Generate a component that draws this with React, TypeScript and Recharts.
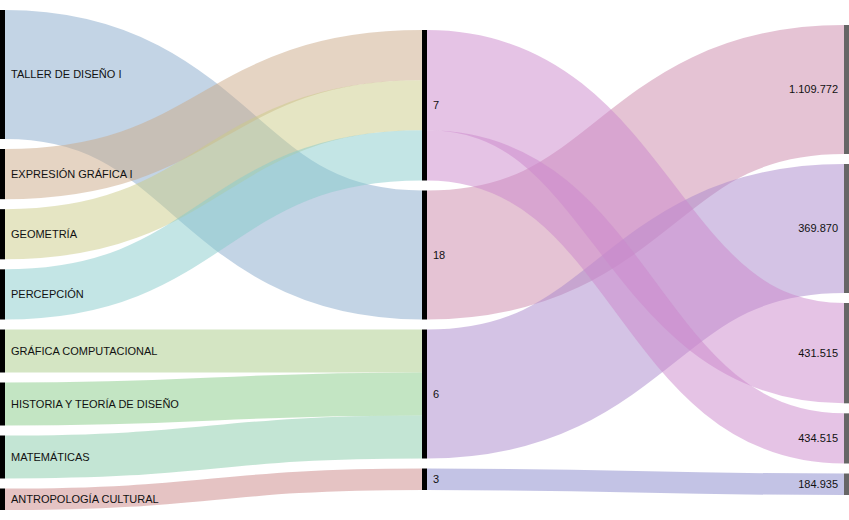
import { Sankey } from 'recharts';

// left column: courses and their credits
const courses = [
  'TALLER DE DISEÑO I',
  'EXPRESIÓN GRÁFICA I',
  'GEOMETRÍA',
  'PERCEPCIÓN',
  'GRÁFICA COMPUTACIONAL',
  'HISTORIA Y TEORÍA DE DISEÑO',
  'MATEMÁTICAS',
  'ANTROPOLOGÍA CULTURAL',
];
const courseCredits = [18, 7, 7, 7, 6, 6, 6, 3];
const courseGroup = ['18', '7', '7', '7', '6', '6', '6', '3'];
const courseColors = ['#88aacc', '#ccaa88', '#cccc88', '#88cccc', '#aacc88', '#88cc88', '#88ccaa', '#cc8888'];

// middle column: credit groups
const groups = ['7', '18', '6', '3'];
const groupColors = ['#cc88cc', '#cc88aa', '#aa88cc', '#8888cc'];

// right column: amounts
const amounts = ['1.109.772', '369.870', '431.515', '434.515', '184.935'];
const amountFrom = ['18', '6', '7', '7', '3'];
const amountValues = [18, 18, 14, 7, 3];

const WIDTH = 849;
const HEIGHT = 520;
const MARGIN = { top: 10, right: 0, bottom: 10, left: 0 };
const PAD = 10;
const NODE_W = 5;

const nodeNames = [...courses, ...groups, ...amounts];
const nodes = nodeNames.map((name) => ({ name }));

const linkSrc: string[] = [];
const linkColor: string[] = [];
const links: { source: number; target: number; value: number }[] = [];
courses.forEach((c, i) => {
  links.push({ source: nodeNames.indexOf(c), target: nodeNames.indexOf(courseGroup[i]), value: courseCredits[i] });
  linkSrc.push(c);
  linkColor.push(courseColors[i]);
});
amounts.forEach((a, i) => {
  links.push({ source: nodeNames.indexOf(amountFrom[i]), target: nodeNames.indexOf(a), value: amountValues[i] });
  linkSrc.push(amountFrom[i]);
  linkColor.push(groupColors[groups.indexOf(amountFrom[i])]);
});

// Google-style layout centers each column vertically
const columns = [courses, groups, amounts];
const colTotals = [
  courseCredits.reduce((a, b) => a + b, 0),
  courseCredits.reduce((a, b) => a + b, 0),
  amountValues.reduce((a, b) => a + b, 0),
];
const innerH = HEIGHT - MARGIN.top - MARGIN.bottom;
const ky = Math.min(...columns.map((c, d) => (innerH - (c.length - 1) * PAD) / colTotals[d]));
const colOffset = columns.map((c, d) => (innerH - (colTotals[d] * ky + (c.length - 1) * PAD)) / 2);
const depthOf = (name: string) => columns.findIndex((c) => c.includes(name));

const FONT = 'Arial, "Liberation Sans", sans-serif';

function SankeyNode(props: any) {
  const { x, y, width, height, index, payload } = props;
  const name: string = payload?.name ?? nodeNames[index];
  const d = depthOf(name);
  const yy = y + colOffset[d];
  const isRight = d === 2;
  return (
    <g>
      <rect x={x} y={yy} width={width} height={height} fill={isRight ? '#666666' : '#000000'} />
      <text
        x={isRight ? x - 6 : x + width + 6}
        y={yy + height / 2}
        dy="0.35em"
        textAnchor={isRight ? 'end' : 'start'}
        fontSize={11}
        fontFamily={FONT}
        fill="#111111"
      >
        {name}
      </text>
    </g>
  );
}

function SankeyLink(props: any) {
  const { sourceX, targetX, sourceY, targetY, sourceControlX, targetControlX, linkWidth, index } = props;
  const sd = depthOf(linkSrc[index]);
  const sy = sourceY + colOffset[sd];
  const ty = targetY + colOffset[sd + 1];
  const d = `M${sourceX},${sy} C${sourceControlX},${sy} ${targetControlX},${ty} ${targetX},${ty}`;
  return <path d={d} fill="none" stroke={linkColor[index]} strokeOpacity={0.5} strokeWidth={linkWidth} />;
}

export default function App() {
  return (
    <div style={{ position: 'absolute', left: 0, top: 0, width: WIDTH, height: HEIGHT, background: '#fff' }}>
      <Sankey
        width={WIDTH}
        height={HEIGHT}
        data={{ nodes, links }}
        margin={MARGIN}
        nodeWidth={NODE_W}
        nodePadding={PAD}
        iterations={0}
        linkCurvature={0.5}
        node={<SankeyNode />}
        link={<SankeyLink />}
      />
    </div>
  );
}
